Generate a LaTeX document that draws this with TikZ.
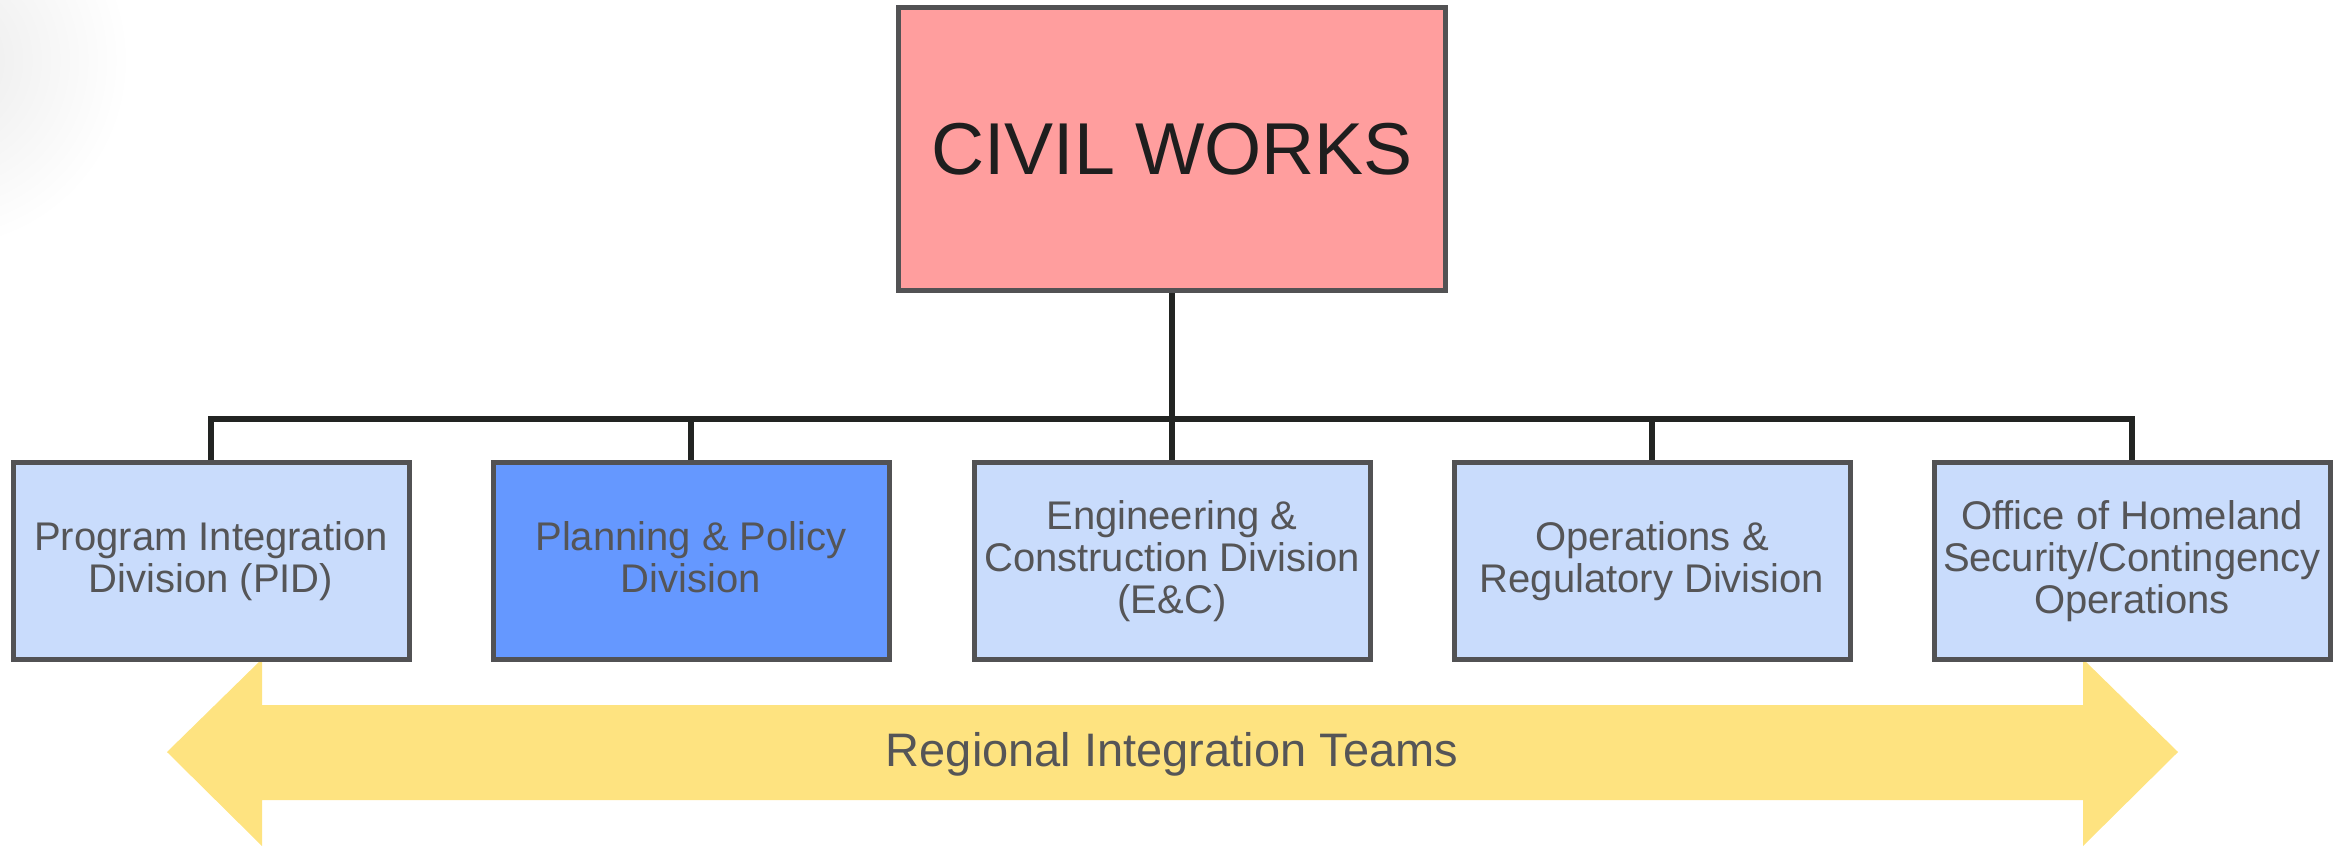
\documentclass[tikz,border=0pt]{standalone}
\usepackage{fontspec}
\setmainfont{Liberation Sans}
\definecolor{boxline}{RGB}{82,82,84}
\definecolor{conline}{RGB}{34,36,34}
\definecolor{pinkfill}{RGB}{255,158,158}
\definecolor{lightblue}{RGB}{201,220,252}
\definecolor{midblue}{RGB}{101,152,255}
\definecolor{txtgray}{RGB}{85,85,87}
\definecolor{civtxt}{RGB}{30,30,30}
\definecolor{arrowyellow}{RGB}{254,227,128}
\tikzset{
  divbox/.style={draw=boxline, line width=5pt, fill=lightblue, minimum width=396pt, minimum height=197pt, inner sep=0pt, align=center, text=txtgray, font=\fontsize{40}{42}\selectfont},
  civbox/.style={draw=boxline, line width=5pt, fill=pinkfill, minimum width=547pt, minimum height=283pt, inner sep=0pt, text=civtxt, font=\fontsize{73.5}{80}\selectfont},
  conn/.style={draw=conline, line width=5.5pt},
}
\begin{document}
\begin{tikzpicture}[x=1pt,y=-1pt]
\useasboundingbox (0,0) rectangle (2338,849);
\begin{scope}
\clip (0,0) rectangle (2338,849);
\shade[inner color=black!8, outer color=white] (-60,60) circle (190);
\end{scope}
% arrow
\fill[arrowyellow] (167,752) -- (262,659) -- (262,705) -- (2083,705) -- (2083,659) -- (2178,752) -- (2083,846) -- (2083,800) -- (262,800) -- (262,846) -- cycle;
\node[text=txtgray, font=\fontsize{47}{50}\selectfont] (rit) at (1172,754) {Regional Integration Teams};
% boxes
\node[civbox] (cw) at (1172,149) {CIVIL WORKS};
\node[divbox] (d1) at (211,561) {Program Integration\\Division (PID)};
\node[divbox, fill=midblue] (d2) at (691,561) {Planning \& Policy\\Division\vphantom{()}};
\node[divbox] (d3) at (1172,561) {Engineering \&\\Construction Division\\(E\&C)};
\node[divbox] (d4) at (1652,561) {Operations \&\\Regulatory Division};
\node[divbox] (d5) at (2132,561) {Office of Homeland\\Security/Contingency\\Operations};
\coordinate (bar) at (1172,419);
% connectors
\draw[conn] (cw.south -| bar) -- (bar);
\draw[conn] (d1.north) |- (bar);
\draw[conn] (d5.north) |- (bar);
\draw[conn] (d2.north) -- (d2.north |- bar);
\draw[conn] (d3.north) -- (bar);
\draw[conn] (d4.north) -- (d4.north |- bar);
\end{tikzpicture}
\end{document}
